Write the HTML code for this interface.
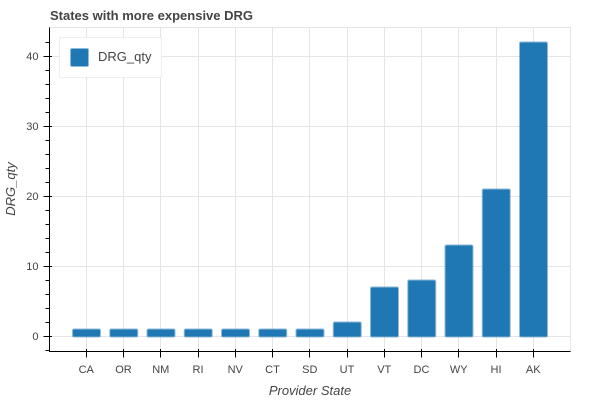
<!DOCTYPE html>
<html>
<head>
<meta charset="utf-8">
<style>
html,body{margin:0;padding:0;background:#fff;}
svg{display:block;font-family:"Liberation Sans",sans-serif;}
</style>
</head>
<body>
<svg id="chart" xmlns="http://www.w3.org/2000/svg" width="600" height="400" viewBox="0 0 600 400">
  <rect x="0" y="0" width="600" height="400" fill="#fff"/>
  <text x="50" y="20" font-size="13" font-weight="bold" fill="#444">States with more expensive DRG</text>
  <g id="grid"></g>
  <rect x="49.5" y="27.5" width="521" height="324" fill="none" stroke="#e5e5e5" stroke-width="1"/>
  <g id="bars"></g>
  <g id="axes"></g>
  <text x="310" y="395" font-size="13" font-style="italic" fill="#444" text-anchor="middle">Provider State</text>
  <text transform="translate(15,189) rotate(-90)" font-size="13" font-style="italic" fill="#444" text-anchor="middle">DRG_qty</text>
  <g>
    <rect x="59.5" y="37.5" width="102" height="40" fill="#fff" fill-opacity="0.95" stroke="#e5e5e5" stroke-opacity="0.6"/>
    <rect x="71" y="49" width="17" height="17" rx="1" fill="#1f77b4" stroke="#1f77b4" stroke-opacity="0.5" stroke-width="2" stroke-linejoin="round"/>
    <text x="98" y="61" font-size="13" fill="#444">DRG_qty</text>
  </g>
</svg>
<script>
const categories = ["CA","OR","NM","RI","NV","CT","SD","UT","VT","DC","WY","HI","AK"];
const drgQty = [1,1,1,1,1,1,1,2,7,8,13,21,42];
const yTickValues = [0,10,20,30,40];
const yMinorTickValues = [-2,2,4,6,8,12,14,16,18,22,24,26,28,32,34,36,38,42];

const NS = "http://www.w3.org/2000/svg";
const plotLeft = 49.5, plotRight = 570.5, plotTop = 27.5, plotBottom = 351.5;
const xScale = i => 86.25 + i * 37.25;
const yScale = v => 336.5 - v * 7;
const barWidth = 27;

function make(parent, tag, attrs, text) {
  const el = document.createElementNS(NS, tag);
  for (const k in attrs) el.setAttribute(k, attrs[k]);
  if (text !== undefined) el.textContent = text;
  parent.appendChild(el);
  return el;
}

const gridG = document.getElementById("grid");
const barsG = document.getElementById("bars");
const axesG = document.getElementById("axes");

yTickValues.forEach(v => {
  const y = yScale(v);
  const el = make(gridG, "line", {x1: plotLeft, x2: plotRight, y1: y, y2: y, stroke: "#e5e5e5", "stroke-width": 1});
  
  
});
categories.forEach((c, i) => {
  const x = Math.round(xScale(i) - 0.5) + 0.5;
  const el = make(gridG, "line", {x1: x, x2: x, y1: plotTop, y2: plotBottom, stroke: "#e5e5e5", "stroke-width": 1});
  
  
});

drgQty.forEach((v, i) => {
  const top = yScale(v), base = yScale(0);
  const el = make(barsG, "rect", {
    x: xScale(i) - barWidth / 2 + 0.25, y: top, width: barWidth, height: base - top, rx: 1,
    fill: "#1f77b4", stroke: "#1f77b4", "stroke-opacity": 0.5, "stroke-width": 2, "stroke-linejoin": "round"
  });
  
  
});

const yAxisLine = make(axesG, "line", {x1: plotLeft, x2: plotLeft, y1: plotTop, y2: plotBottom + 0.5, stroke: "#000", "stroke-width": 1});


const xAxisLine = make(axesG, "line", {x1: plotLeft, x2: plotRight, y1: plotBottom, y2: plotBottom, stroke: "#000", "stroke-width": 1});



yTickValues.forEach(v => {
  const y = yScale(v);
  const tick = make(axesG, "line", {x1: plotLeft - 6, x2: plotLeft + 2.5, y1: y, y2: y, stroke: "#000", "stroke-width": 1});
  
  
  const label = make(axesG, "text", {x: plotLeft - 11, y: y + 3.5, "font-size": 11, fill: "#444", "text-anchor": "end"}, String(v));
  
  
});
yMinorTickValues.forEach(v => {
  const y = yScale(v);
  const tick = make(axesG, "line", {x1: plotLeft - 4, x2: plotLeft, y1: y, y2: y, stroke: "#000", "stroke-width": 1});
  
  
});
categories.forEach((c, i) => {
  const cx = xScale(i);
  const x = Math.round(cx - 0.5) + 0.5;
  const tick = make(axesG, "line", {x1: x, x2: x, y1: plotBottom - 2.5, y2: plotBottom + 6, stroke: "#000", "stroke-width": 1});
  
  
  const label = make(axesG, "text", {x: cx, y: 373, "font-size": 11, fill: "#444", "text-anchor": "middle"}, c);
  
  
});
</script>
</body>
</html>
